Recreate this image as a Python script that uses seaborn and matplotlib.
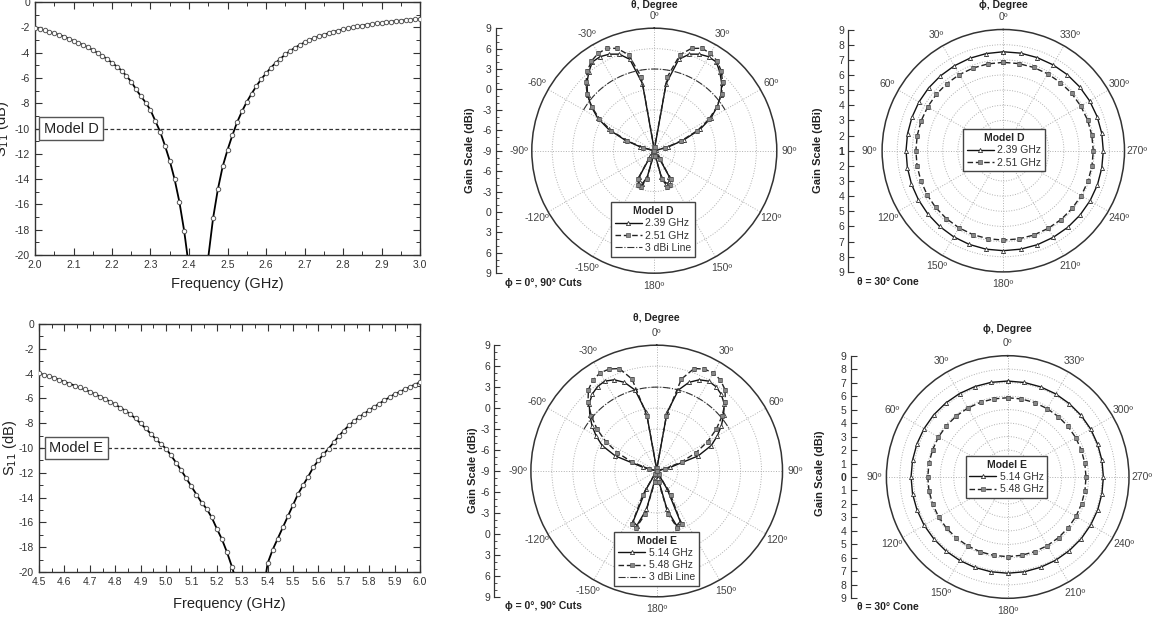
import numpy as np
import matplotlib
matplotlib.use("Agg")
import matplotlib.pyplot as plt
import seaborn as sns
from matplotlib.ticker import MultipleLocator, FixedLocator

W, H = 1157, 620

# ---------------- S11 data ----------------
freq_d = np.linspace(2.0, 3.0, 81)
s11_d = [-2.03, -2.13, -2.24, -2.36, -2.48, -2.60, -2.73, -2.90, -3.08, -3.24,
         -3.40, -3.58, -3.80, -4.02, -4.25, -4.52, -4.80, -5.10, -5.42, -5.85,
         -6.30, -6.90, -7.45, -7.95, -8.55, -9.40, -10.25, -11.35, -12.55, -14.00,
         -15.80, -18.10, -21.00, -25.00, -30.00, -25.00, -20.20, -17.10, -14.80, -13.00,
         -11.70, -10.55, -9.50, -8.65, -7.90, -7.25, -6.65, -6.10, -5.65, -5.20,
         -4.82, -4.48, -4.15, -3.87, -3.62, -3.40, -3.20, -3.02, -2.86, -2.72,
         -2.59, -2.47, -2.36, -2.26, -2.17, -2.08, -2.00, -1.93, -1.86, -1.80,
         -1.74, -1.69, -1.64, -1.59, -1.55, -1.51, -1.47, -1.44, -1.40, -1.37, -1.34]

freq_e = np.linspace(4.5, 6.0, 76)
s11_e = [-3.98, -4.10, -4.22, -4.35, -4.50, -4.66, -4.81, -4.96, -5.12, -5.28,
         -5.46, -5.65, -5.85, -6.05, -6.26, -6.49, -6.74, -7.00, -7.28, -7.62,
         -8.02, -8.42, -8.85, -9.28, -9.68, -10.05, -10.60, -11.20, -11.80, -12.45,
         -13.10, -13.75, -14.40, -14.90, -15.60, -16.50, -17.35, -18.40, -19.60, -21.00,
         -23.00, -26.00, -28.00, -25.00, -22.00, -19.30, -18.20, -17.30, -16.40, -15.50,
         -14.60, -13.70, -13.00, -12.30, -11.55, -11.00, -10.50, -10.05, -9.55, -9.05,
         -8.60, -8.18, -7.85, -7.50, -7.25, -6.95, -6.68, -6.42, -6.15, -5.92,
         -5.65, -5.48, -5.28, -5.08, -4.88, -4.70]

# ---------------- theta cuts (|theta| 0..180 step 5, mirrored) ----------------
theta_half = np.arange(0, 185, 5)
gain_d_239 = [-9.0, -8.8, 1.0, 4.9, 6.1, 6.65, 6.95, 6.9, 6.0, 5.0, 3.8, 2.3, 0.6,
              -1.6, -4.4, -6.9, -8.8, -9.0, -9.0, -9.0, -9.0, -9.0, -9.0, -9.0, -9.0,
              -9.0, -9.0, -9.0, -9.0, -8.0, -4.6, -3.9, -3.8, -5.0, -8.5, -9.0, -9.0]
gain_d_251 = [-9.0, -8.5, 2.0, 5.6, 7.0, 7.6, 7.5, 7.1, 6.3, 5.2, 3.9, 2.2, 0.3,
              -2.0, -4.8, -7.3, -9.0, -9.0, -9.0, -9.0, -9.0, -9.0, -9.0, -9.0, -9.0,
              -9.0, -9.0, -9.0, -9.0, -7.6, -4.2, -3.5, -3.4, -4.7, -8.2, -9.0, -9.0]
gain_e_514 = [-9.0, -8.6, -0.5, 3.0, 4.5, 5.4, 5.85, 5.75, 5.35, 4.65, 3.5, 2.3, 1.0,
              -0.4, -2.7, -7.0, -9.0, -9.0, -9.0, -9.0, -9.0, -9.0, -9.0, -9.0, -9.0,
              -9.0, -9.0, -9.0, -9.0, -9.0, -6.0, -1.0, -0.7, -3.3, -8.0, -9.0, -9.0]
gain_e_548 = [-9.0, -8.5, -1.0, 4.6, 6.6, 7.1, 7.2, 6.9, 6.2, 4.9, 3.2, 1.4, -0.6,
              -2.8, -5.2, -7.8, -9.0, -9.0, -9.0, -9.0, -9.0, -9.0, -9.0, -9.0, -9.0,
              -9.0, -9.0, -9.0, -9.0, -8.5, -5.0, -0.6, -0.3, -2.6, -7.4, -9.0, -9.0]
ref_db = 3.0
ref_span = (-60, 60)

# ---------------- theta = 30 deg cone (phi 0..350 step 10) ----------------
phi_deg = np.arange(0, 360, 10)
cone_d_239 = [7.53, 7.51, 7.49, 7.47, 7.45, 7.44, 7.43, 7.42, 7.42, 7.42, 7.43, 7.45,
              7.47, 7.50, 7.53, 7.56, 7.58, 7.60, 7.60, 7.60, 7.60, 7.60, 7.61, 7.61,
              7.61, 7.61, 7.60, 7.60, 7.60, 7.59, 7.58, 7.57, 7.56, 7.55, 7.54, 7.54]
cone_d_251 = [6.83, 6.82, 6.81, 6.80, 6.79, 6.78, 6.77, 6.77, 6.77, 6.77, 6.78, 6.79,
              6.81, 6.83, 6.85, 6.87, 6.89, 6.90, 6.90, 6.91, 6.92, 6.92, 6.93, 6.93,
              6.94, 6.94, 6.94, 6.94, 6.93, 6.92, 6.90, 6.89, 6.87, 6.86, 6.85, 6.84]
cone_e_514 = [7.12, 7.13, 7.14, 7.15, 7.16, 7.17, 7.17, 7.17, 7.17, 7.17, 7.17, 7.16,
              7.16, 7.15, 7.15, 7.14, 7.14, 7.14, 7.14, 7.14, 7.13, 7.13, 7.12, 7.12,
              7.11, 7.11, 7.10, 7.10, 7.10, 7.10, 7.11, 7.11, 7.11, 7.12, 7.12, 7.12]
cone_e_548 = [5.88, 5.89, 5.90, 5.91, 5.92, 5.93, 5.93, 5.93, 5.93, 5.93, 5.93, 5.92,
              5.92, 5.92, 5.91, 5.91, 5.91, 5.91, 5.91, 5.90, 5.89, 5.88, 5.87, 5.86,
              5.85, 5.83, 5.82, 5.81, 5.81, 5.82, 5.83, 5.84, 5.85, 5.86, 5.87, 5.88]

# tick labels
cut_angle_labels = ['0º', '30º', '60º', '90º', '120º', '150º', '180º',
                    '-150º', '-120º', '-90º', '-60º', '-30º']
cone_angle_labels = ['0º', '30º', '60º', '90º', '120º', '150º', '180º',
                     '210º', '240º', '270º', '300º', '330º']
cut_gain_labels = ['9', '6', '3', '0', '-3', '-6', '-9', '-6', '-3', '0', '3', '6', '9']
cone_d_gain_labels = ['9', '8', '7', '6', '5', '4', '3', '2', '1',
                      '2', '3', '4', '5', '6', '7', '8', '9']
cone_e_gain_labels = ['9', '8', '7', '6', '5', '4', '3', '2', '1', '0',
                      '1', '2', '3', '4', '5', '6', '7', '8', '9']

sns.set_style("ticks")
plt.rcParams['font.family'] = ['Liberation Sans', 'DejaVu Sans']
plt.rcParams['axes.unicode_minus'] = False

fig = plt.figure(figsize=(W / 100, H / 100), dpi=100)


def px_rect(left, top, width, height):
    return [left / W, 1 - (top + height) / H, width / W, height / H]


def fig_text(x, y, s, **kw):
    fig.text(x / W, 1 - y / H, s, **kw)


# ---------------- S11 panels ----------------
def s11_panel(rect, freq, s11, xlim, label_x, model, xlab_y, ylab_x):
    ax = fig.add_axes(rect)
    ax.axhline(-10, color='#333', lw=0.9, ls=(0, (3, 2)), zorder=1)
    sns.lineplot(x=freq, y=s11, ax=ax, color='black', lw=1.3, marker='o', ms=3.2,
                 mfc='white', mec='#555', mew=0.7, zorder=3)
    ax.set_xlim(*xlim)
    ax.set_ylim(-20, 0)
    ax.xaxis.set_major_locator(MultipleLocator(0.1))
    ax.xaxis.set_minor_locator(MultipleLocator(0.05))
    ax.yaxis.set_major_locator(MultipleLocator(2))
    ax.yaxis.set_minor_locator(MultipleLocator(1))
    ax.xaxis.set_major_formatter(plt.FormatStrFormatter('%.1f'))
    ax.tick_params(which='both', direction='in', top=True, right=True,
                   color='#333', labelsize=7.5, labelcolor='#333')
    ax.tick_params(which='major', length=5, width=0.8)
    ax.tick_params(which='minor', length=3, width=0.7)
    for s in ax.spines.values():
        s.set_color('#333')
        s.set_linewidth(1.0)
    ax.set_xlabel('Frequency (GHz)', fontsize=10.5, color='#222')
    ax.set_ylabel('S$_{11}$ (dB)', fontsize=10.5, color='#222')
    ax.xaxis.set_label_coords(0.5, xlab_y)
    ax.yaxis.set_label_coords(ylab_x, 0.5)
    ax.text(label_x, -10, model, ha='left', va='center', fontsize=10.5, color='#222',
            bbox=dict(boxstyle='square,pad=0.3', fc='white', ec='#555', lw=1.0), zorder=5)
    return ax


s11_panel(px_rect(35, 2, 385, 253), freq_d, s11_d, (2.0, 3.0), 2.023, 'Model D',
          -0.085, -0.062)
s11_panel(px_rect(39, 324, 381, 248), freq_e, s11_e, (4.5, 6.0), 4.54, 'Model E',
          -0.10, -0.052)


# ---------------- polar helpers ----------------
def setup_polar(ax, rmin, rmax, rgrid, labels, direction):
    ax.set_theta_zero_location('N')
    ax.set_theta_direction(direction)
    ax.set_rlim(rmin, rmax)
    ax.set_rticks(rgrid)
    ax.set_yticklabels([])
    ax.set_xticks(np.radians(np.arange(0, 360, 30)))
    ax.set_xticklabels(labels)
    ax.xaxis.set_minor_locator(FixedLocator(np.radians(np.arange(15, 360, 30))))
    ax.tick_params(axis='x', which='both', direction='in', length=4, width=0.8,
                   color='#444', pad=2, labelsize=7.5, labelcolor='#444')
    ax.grid(True, color='#b0b0b0', linestyle=':', linewidth=0.7)
    ax.spines['polar'].set_color('#333')
    ax.spines['polar'].set_linewidth(1.1)
    ax.set_xlabel('')
    ax.set_ylabel('')


def gain_axis(rect, half, labels, minor, bold_center):
    gax = fig.add_axes(rect)
    gax.patch.set_visible(False)
    gax.set_ylim(-half, half)
    gax.set_xticks([])
    for s in ['top', 'right', 'bottom']:
        gax.spines[s].set_visible(False)
    gax.spines['left'].set_color('#333')
    gax.spines['left'].set_linewidth(0.9)
    gax.set_yticks(np.linspace(half, -half, len(labels)))
    gax.set_yticklabels(labels)
    if minor:
        gax.yaxis.set_minor_locator(MultipleLocator(minor))
    gax.tick_params(axis='y', which='major', direction='in', length=4, width=0.8,
                    color='#333', labelsize=7.5, labelcolor='#333', pad=3)
    gax.tick_params(axis='y', which='minor', direction='in', length=2.5, width=0.6,
                    color='#333')
    if bold_center:
        gax.get_yticklabels()[len(labels) // 2].set_fontweight('bold')
    return gax


def mirror(half_vals):
    vals = list(half_vals)
    return vals[::-1] + vals[1:]


theta_full = np.radians(np.concatenate([-theta_half[::-1], theta_half[1:]]))
line_kw_solid = dict(color='#111', lw=1.0, marker='^', ms=3.0, mfc='white', mec='#333', mew=0.6)
line_kw_dash = dict(color='#222', lw=1.0, ls=(0, (4, 2)), marker='s', ms=2.4, mfc='#888',
                    mec='#555', mew=0.5)
leg_kw = dict(loc='center', fontsize=7.5, frameon=True, fancybox=False, edgecolor='#444',
              framealpha=1, handlelength=2.6, handletextpad=0.35, borderpad=0.35,
              labelspacing=0.22, numpoints=1, borderaxespad=0,
              title_fontproperties={'weight': 'bold', 'size': 7.5})


def cut_panel(rect, grect, g1, g2, names, model, leg_center, title_y, gain_x, gain_y, cut_y):
    pax = fig.add_axes(rect, projection='polar')
    sns.lineplot(x=theta_full, y=mirror(g1), ax=pax, sort=False, estimator=None, **line_kw_solid)
    h1 = pax.lines[-1]
    sns.lineplot(x=theta_full, y=mirror(g2), ax=pax, sort=False, estimator=None, **line_kw_dash)
    h2 = pax.lines[-1]
    arc = np.radians(np.linspace(ref_span[0], ref_span[1], 121))
    sns.lineplot(x=arc, y=[ref_db] * len(arc), ax=pax, sort=False, estimator=None,
                 color='#333', lw=0.8, ls='-.')
    h3 = pax.lines[-1]
    setup_polar(pax, -9, 9, [-6, -3, 0, 3, 6], cut_angle_labels, -1)
    leg = pax.legend([h1, h2, h3], names + ['3 dBi Line'], title=model,
                     bbox_to_anchor=(leg_center[0] / W, 1 - leg_center[1] / H),
                     bbox_transform=fig.transFigure, **leg_kw)
    leg.get_frame().set_linewidth(1.0)
    for t in leg.get_texts():
        t.set_color('#333')
    gain_axis(grect, 18, cut_gain_labels, 1, False)
    fig_text(rect[0] * W + rect[2] * W / 2, title_y, 'θ, Degree', ha='center', va='center',
             fontsize=7.5, fontweight='bold', color='#222')
    fig_text(gain_x, gain_y, 'Gain Scale (dBi)', ha='center', va='center', rotation=90,
             fontsize=8, fontweight='bold', color='#222')
    fig_text(505, cut_y, 'ϕ = 0°, 90° Cuts', ha='left', va='center', fontsize=7.5,
             fontweight='bold', color='#222')


def cone_panel(rect, grect, half, gain_labels, c1, c2, names, model, leg_center,
               title_y, gain_x, gain_y, cone_y, rmin):
    pax = fig.add_axes(rect, projection='polar')
    phi = np.radians(np.append(phi_deg, 360))
    sns.lineplot(x=phi, y=c1 + c1[:1], ax=pax, sort=False, estimator=None, **line_kw_solid)
    h1 = pax.lines[-1]
    sns.lineplot(x=phi, y=c2 + c2[:1], ax=pax, sort=False, estimator=None, **line_kw_dash)
    h2 = pax.lines[-1]
    setup_polar(pax, rmin, 9, list(range(rmin + 1, 9)), cone_angle_labels, 1)
    leg = pax.legend([h1, h2], names, title=model,
                     bbox_to_anchor=(leg_center[0] / W, 1 - leg_center[1] / H),
                     bbox_transform=fig.transFigure, **leg_kw)
    leg.get_frame().set_linewidth(1.0)
    for t in leg.get_texts():
        t.set_color('#333')
    gain_axis(grect, half, gain_labels, None, True)
    fig_text(rect[0] * W + rect[2] * W / 2, title_y, 'ϕ, Degree', ha='center', va='center',
             fontsize=7.5, fontweight='bold', color='#222')
    fig_text(gain_x, gain_y, 'Gain Scale (dBi)', ha='center', va='center', rotation=90,
             fontsize=8, fontweight='bold', color='#222')
    fig_text(857, cone_y, 'θ = 30° Cone', ha='left', va='center', fontsize=7.5,
             fontweight='bold', color='#222')


cut_panel(px_rect(531.8, 28.2, 245, 245), px_rect(495.7, 28.2, 1, 245),
          gain_d_239, gain_d_251, ['2.39 GHz', '2.51 GHz'], 'Model D',
          (653, 229.5), 5, 470, 150, 283)
cut_panel(px_rect(530.9, 345.2, 251.6, 251.6), px_rect(494.3, 345.2, 1, 251.6),
          gain_e_514, gain_e_548, ['5.14 GHz', '5.48 GHz'], 'Model E',
          (656.5, 559), 318, 473, 470, 606)
cone_panel(px_rect(882.1, 29.5, 242.4, 242.4), px_rect(848.3, 29.5, 1, 242.4), 8,
           cone_d_gain_labels, cone_d_239, cone_d_251, ['2.39 GHz', '2.51 GHz'], 'Model D',
           (1004, 150.3), 5, 818, 150, 282, 1)
cone_panel(px_rect(886.4, 355.7, 242.6, 242.6), px_rect(850.7, 355.7, 1, 242.6), 9,
           cone_e_gain_labels, cone_e_514, cone_e_548, ['5.14 GHz', '5.48 GHz'], 'Model E',
           (1006.5, 477), 329, 820, 473, 607, 0)

fig.savefig('out.png', dpi=100)
